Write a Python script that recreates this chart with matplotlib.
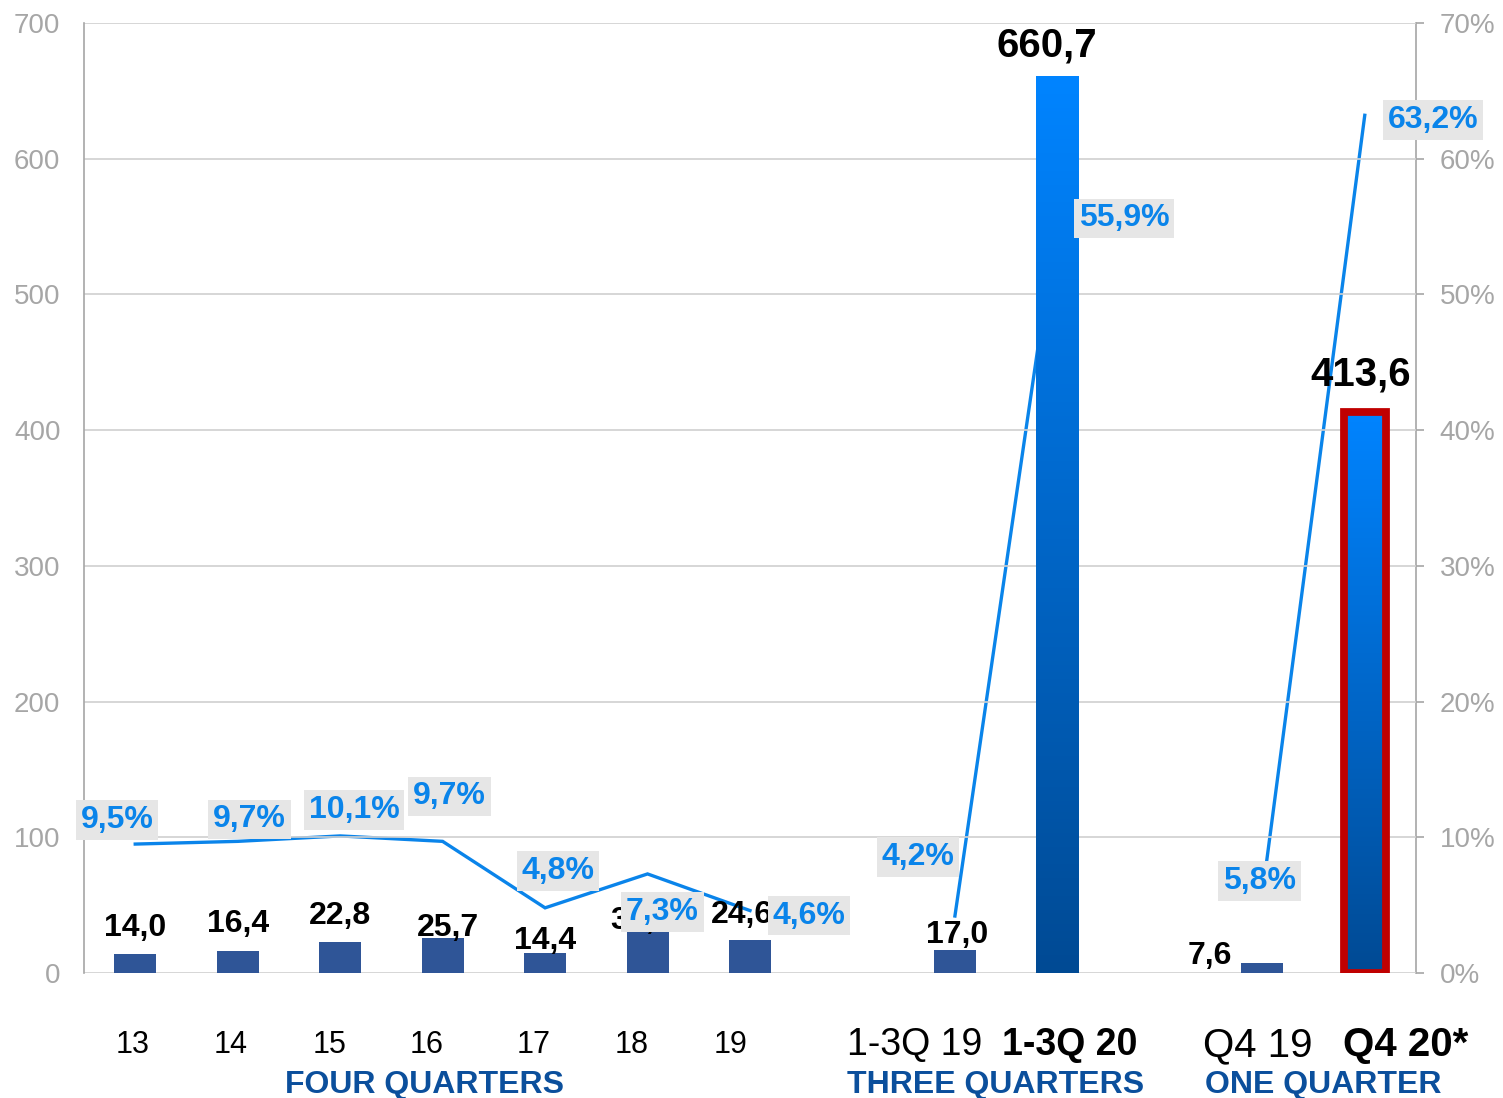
import numpy as np
import matplotlib
matplotlib.use("Agg")
import matplotlib.pyplot as plt
from matplotlib.colors import LinearSegmentedColormap
from matplotlib.ticker import FuncFormatter, MultipleLocator

# ---------------- data ----------------
categories = ["13", "14", "15", "16", "17", "18", "19",
              "1-3Q 19", "1-3Q 20", "Q4 19", "Q4 20*"]
values = [14.0, 16.4, 22.8, 25.7, 14.4, 30.2, 24.6, 17.0, 660.7, 7.6, 413.6]
value_labels = ["14,0", "16,4", "22,8", "25,7", "14,4", "30,2", "24,6",
                "17,0", "660,7", "7,6", "413,6"]
margins = [9.5, 9.7, 10.1, 9.7, 4.8, 7.3, 4.6, 4.2, 55.9, 5.8, 63.2]
margin_labels = ["9,5%", "9,7%", "10,1%", "9,7%", "4,8%", "7,3%", "4,6%",
                 "4,2%", "55,9%", "5,8%", "63,2%"]
groups = ["FOUR QUARTERS", "THREE QUARTERS", "ONE QUARTER"]
group_sizes = [7, 2, 2]
highlight = [False] * 8 + [True, False, True]
bold_cat = [False] * 8 + [True, False, True]

# ---------------- layout / style ----------------
plt.rcParams['font.family'] = ['Liberation Sans', 'DejaVu Sans']
W, H, DPI = 1503, 1098, 100
fig = plt.figure(figsize=(W / DPI, H / DPI), dpi=DPI)
ax = fig.add_axes([84 / W, 1 - 973 / H, (1416 - 84) / W, (973 - 23) / H])
ax2 = ax.twinx()
ax.set_zorder(2)
ax.patch.set_visible(False)
ax2.set_zorder(1)

# slot positions with a gap between groups
positions = []
start = 0
for g in group_sizes:
    positions.extend(range(start, start + g))
    start += g + 1
positions = np.array(positions, dtype=float)

bar_w = 0.41
small_color = "#2F5597"
line_color = "#0A84EA"
grey = "#A6A6A6"
cmap = LinearSegmentedColormap.from_list("g", ["#004A94", "#0084FF"])
grad = np.linspace(0, 1, 256).reshape(-1, 1)

for i, (p, v) in enumerate(zip(positions, values)):
    if highlight[i]:
        bars = ax.bar(p, v, width=bar_w, color="none", zorder=3, linewidth=0)
        patch = bars[0]
        im = ax.imshow(grad, extent=[p - bar_w / 2, p + bar_w / 2, 0, v],
                       origin="lower", aspect="auto", cmap=cmap, zorder=3)
        im.set_clip_path(patch)
    else:
        ax.bar(p, v, width=bar_w, color=small_color, zorder=3, linewidth=0)

# red outline on last bar
ax.bar(positions[-1], values[-1], width=bar_w, color="none",
       edgecolor="#C00000", linewidth=5.6, zorder=4)

# lines (one segment per group) on secondary axis
idx = 0
for g in group_sizes:
    seg = slice(idx, idx + g)
    ax2.plot(positions[seg], np.array(margins[seg]) / 100, color=line_color,
             lw=2.4, solid_joinstyle="miter", zorder=2)
    idx += g

# axes styling
ax.set_xlim(-0.5, 12.5)
ax.set_ylim(0, 700)
ax2.set_ylim(0, 0.7)
ax.yaxis.set_major_locator(MultipleLocator(100))
ax2.yaxis.set_major_locator(MultipleLocator(0.1))
ax2.yaxis.set_major_formatter(FuncFormatter(lambda y, _: f"{y*100:.0f}%"))
ax.grid(axis="y", color="#D0D0D0", lw=1.2, zorder=0)
ax.set_axisbelow(True)
for s in ["top", "bottom", "right"]:
    ax.spines[s].set_visible(False)
for s in ["top", "bottom", "left"]:
    ax2.spines[s].set_visible(False)
ax.spines["left"].set_color(grey)
ax.spines["left"].set_linewidth(1.2)
ax2.spines["right"].set_color(grey)
ax2.spines["right"].set_linewidth(1.2)
ax.tick_params(axis="y", length=0, pad=17, labelsize=20, labelcolor=grey)
ax2.tick_params(axis="y", length=6, width=1.2, color=grey, direction="out",
                pad=11, labelsize=20, labelcolor=grey)
ax.set_xticks([])
ax2.set_xticks([])

# bar value labels
val_off = [(0, 26), (0, 27), (0, 26), (5, 10), (0, 12), (-6, 11), (-8, 25),
           (2, 15), (-11, 31), (-52, 7), (-4, 37)]
for i, (p, v, lab) in enumerate(zip(positions, values, value_labels)):
    big = v > 300
    ax.annotate(lab, xy=(p, v), xytext=val_off[i], textcoords="offset pixels",
                ha="center", va="center", fontsize=29 if big else 23,
                fontweight="bold", color="black", zorder=6)

# margin labels (drawn in top axes so they cover value labels)
m_off = [(-18, 24), (12, 22), (14, 26), (7, 45), (13, 37), (15, -38), (59, -5),
         (-37, 59), (67, -4), (-3, 13), (68, -5)]
for i, (p, m, lab) in enumerate(zip(positions, margins, margin_labels)):
    ax.annotate(lab, xy=(p, m / 100), xycoords=ax2.transData,
                xytext=m_off[i], textcoords="offset pixels",
                ha="center", va="center", fontsize=23, fontweight="bold",
                color=line_color, zorder=8,
                bbox=dict(boxstyle="square,pad=0.15", fc="#E6E6E6", ec="none"))

# category labels
cat_off = [-3, -7, -11, -16, -11, -16, -19, -40, 12, -5, 41]
for i, (p, c) in enumerate(zip(positions, categories)):
    size = 22 if i < 7 else (27 if i < 9 else 29)
    ax.annotate(c, xy=(p, 0), xycoords=("data", "axes fraction"),
                xytext=(cat_off[i], -72), textcoords="offset pixels",
                ha="center", va="center", fontsize=size,
                fontweight="bold" if bold_cat[i] else "normal",
                color="black", annotation_clip=False)

# group labels
grp_off = [-18, -11, 10]
idx = 0
for j, (g, n) in enumerate(zip(groups, group_sizes)):
    center = positions[idx:idx + n].mean()
    ax.annotate(g, xy=(center, 0), xycoords=("data", "axes fraction"),
                xytext=(grp_off[j], -112), textcoords="offset pixels",
                ha="center", va="center", fontsize=23, fontweight="bold",
                color="#0B4F9C", annotation_clip=False)
    idx += n

fig.savefig("out.png", dpi=DPI)
